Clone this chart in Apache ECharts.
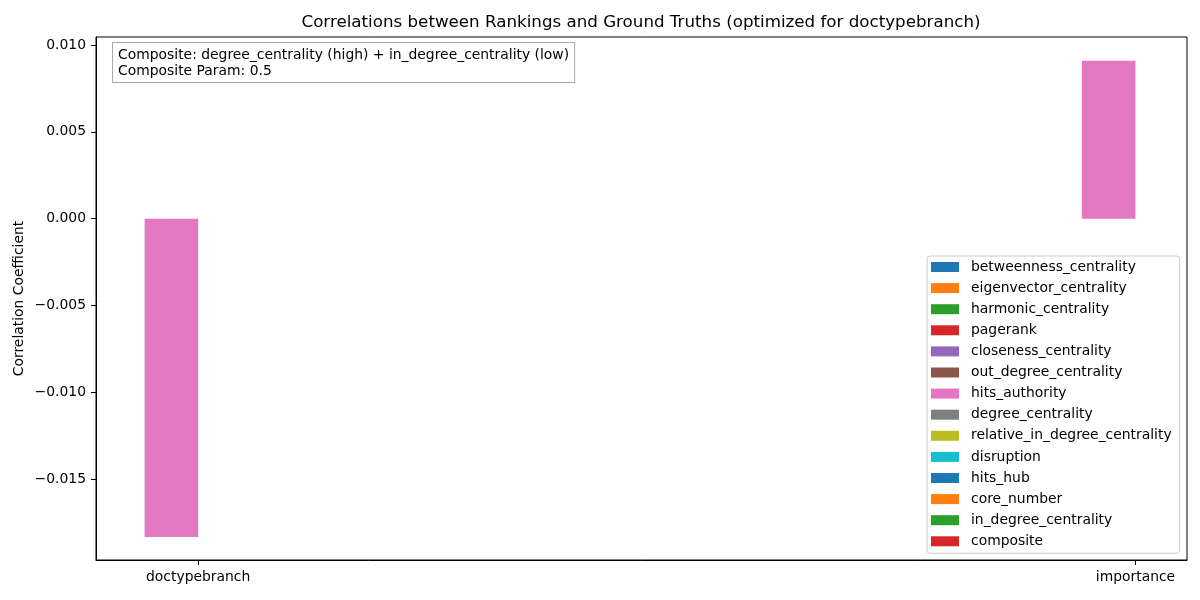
<!DOCTYPE html>
<html>
<head>
<meta charset="utf-8">
<script src="https://cdn.jsdelivr.net/npm/echarts@6/dist/echarts.min.js"></script>
<style>html,body{margin:0;padding:0;background:#fff}#c{width:1200px;height:600px}</style>
</head>
<body>
<div id="c"></div>
<script>
// ---- data ----
const categories = ['doctypebranch', 'importance'];
const metricNames = ['betweenness_centrality','eigenvector_centrality','harmonic_centrality','pagerank','closeness_centrality','out_degree_centrality','hits_authority','degree_centrality','relative_in_degree_centrality','disruption','hits_hub','core_number','in_degree_centrality','composite'];
const betweenness_centrality = [null, null];
const eigenvector_centrality = [null, null];
const harmonic_centrality = [null, null];
const pagerank = [null, null];
const closeness_centrality = [null, null];
const out_degree_centrality = [null, null];
const hits_authority = [-0.01832, 0.00910];
const degree_centrality = [null, null];
const relative_in_degree_centrality = [null, null];
const disruption = [null, null];
const hits_hub = [null, null];
const core_number = [null, null];
const in_degree_centrality = [null, null];
const composite = [null, null];
const yTicks = [-0.015, -0.010, -0.005, 0.000, 0.005, 0.010];
const titleText = 'Correlations between Rankings and Ground Truths (optimized for doctypebranch)';
const noteText = 'Composite: degree_centrality (high) + in_degree_centrality (low)\nComposite Param: 0.5';

const seriesValues = [betweenness_centrality, eigenvector_centrality, harmonic_centrality, pagerank, closeness_centrality, out_degree_centrality, hits_authority, degree_centrality, relative_in_degree_centrality, disruption, hits_hub, core_number, in_degree_centrality, composite];
const palette = ['#1f77b4','#ff7f0e','#2ca02c','#d62728','#9467bd','#8c564b','#e377c2','#7f7f7f','#bcbd22','#17becf'];
const FONT = 'DejaVu Sans';
const nSeries = metricNames.length;
const barW = 0.8 / nSeries;

const series = metricNames.map((name, i) => {
  const color = palette[i % palette.length];
  const data = [];
  seriesValues[i].forEach((v, c) => {
    if (v !== null) data.push([c + (i - (nSeries - 1) / 2) * barW, v]);
  });
  return {
    name, type: 'custom', itemStyle: {color},
    encode: {x: 0, y: 1},
    data,
    renderItem: function (params, api) {
      const x = api.value(0), v = api.value(1);
      const p0 = api.coord([x - barW / 2, 0]);
      const p1 = api.coord([x + barW / 2, v]);
      return {type: 'rect', shape: {x: p0[0], y: Math.min(p0[1], p1[1]), width: p1[0] - p0[0], height: Math.abs(p1[1] - p0[1])}, style: {fill: color}};
    }
  };
});

const fmt = v => v.toFixed(3).replace('-', '\u2212');

const chart = echarts.init(document.getElementById('c'));
chart.setOption({
  animation: false,
  backgroundColor: '#fff',
  textStyle: {fontFamily: FONT},
  title: {text: titleText, left: 641, top: 14, textAlign: 'center', padding: 0,
    textStyle: {fontFamily: FONT, fontSize: 16.7, fontWeight: 'normal', color: '#000'}},
  grid: {left: 96, right: 13, top: 37, bottom: 40, show: true, borderColor: '#000', borderWidth: 1, containLabel: false},
  xAxis: {type: 'value', min: -0.109, max: 1.055,
    axisLine: {onZero: false, lineStyle: {color: '#000'}},
    axisTick: {customValues: [0, 1], length: 5, lineStyle: {color: '#000'}},
    axisLabel: {customValues: [0, 1], margin: 10, color: '#000', fontSize: 13.9, fontFamily: FONT,
      formatter: v => categories[Math.round(v)]},
    splitLine: {show: false}},
  yAxis: {type: 'value', min: -0.01964, max: 0.01046,
    name: 'Correlation Coefficient', nameLocation: 'middle', nameGap: 70, nameMoveOverlap: false,
    nameTextStyle: {color: '#000', fontSize: 13.9, fontFamily: FONT},
    axisLine: {show: true, onZero: false, lineStyle: {color: '#000'}},
    axisTick: {show: true, customValues: yTicks, length: 5, lineStyle: {color: '#000'}},
    axisLabel: {customValues: yTicks, margin: 10, color: '#000', fontSize: 13.9, fontFamily: FONT, formatter: fmt},
    splitLine: {show: false}},
  legend: {orient: 'vertical', left: 927, top: 256, padding: [4, 8, 5, 4],
    itemWidth: 28, itemHeight: 10, itemGap: 7.1, icon: 'rect',
    backgroundColor: '#fff', borderColor: '#cccccc', borderWidth: 1, borderRadius: 3,
    textStyle: {color: '#000', fontSize: 13.9, fontFamily: FONT, lineHeight: 14, padding: [0, 0, 0, 7]},
    data: metricNames},
  graphic: [{type: 'text', left: 112, top: 42, z: 10,
    style: {text: noteText, font: '13.9px "DejaVu Sans"', fill: '#000', lineHeight: 16,
      backgroundColor: '#fff', borderColor: '#aaaaaa', borderWidth: 1, padding: [4, 5, 3, 5]}}],
  series
});
</script>
</body>
</html>
